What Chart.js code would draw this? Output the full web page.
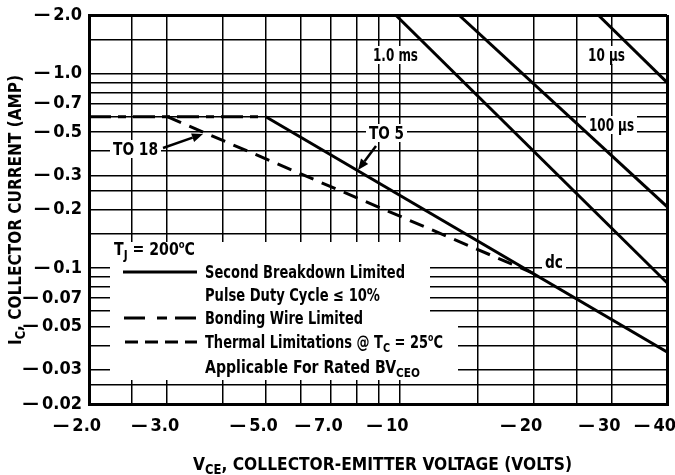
<!DOCTYPE html>
<html><head><meta charset="utf-8">
<script src="https://cdn.jsdelivr.net/npm/chart.js@4.4.0/dist/chart.umd.min.js"></script>
<style>html,body{margin:0;padding:0;background:#fff}#wrap{width:675px;height:475px}</style>
</head><body><div id="wrap"><canvas id="c" width="675" height="475"></canvas></div>
<script>
// ---- data ----
const xGridValues = [2, 2.5, 3, 4, 5, 6, 7, 8, 9, 10, 15, 20, 25, 30, 40];
const xLabeledValues = [2, 3, 5, 7, 10, 20, 30, 40];
const xTickLabels = ['2.0', '3.0', '5.0', '7.0', '10', '20', '30', '40'];
const yGridValues = [2, 1.5, 1, 0.9, 0.8, 0.7, 0.6, 0.5, 0.4, 0.3, 0.25, 0.2, 0.15, 0.1, 0.09, 0.08, 0.07, 0.06, 0.05, 0.04, 0.03, 0.025, 0.02];
const yLabeledValues = [2, 1, 0.7, 0.5, 0.3, 0.2, 0.1, 0.07, 0.05, 0.03, 0.02];
const yTickLabels = ['2.0', '1.0', '0.7', '0.5', '0.3', '0.2', '0.1', '0.07', '0.05', '0.03', '0.02'];

const dcVce = [5, 40];        const dcIc = [0.6, 0.037];
const bondVce = [2, 5];       const bondIc = [0.6, 0.6];
const thermVce = [3, 20];     const thermIc = [0.6, 0.094];
const p1msVce = [9.8, 40];    const p1msIc = [2.0, 0.084];
const p100usVce = [13.6, 40]; const p100usIc = [2.0, 0.207];
const p10usVce = [28, 40];    const p10usIc = [2.0, 0.9];

// ---- style ----
const FAM = '"Liberation Sans Narrow", "DejaVu Sans Condensed", "Arial Narrow", sans-serif';
const DASH = '\u2014\u2009';

function pts(xs, ys) { return xs.map((x, i) => ({ x: x, y: ys[i] })); }
function near(a, b) { return Math.abs(a - b) / b < 1e-6; }

function fontStr(size) { return 'bold ' + size + 'px ' + FAM; }
function segWidth(ctx, segs, size) {
  let w = 0;
  segs.forEach(s => {
    const sz = s.s === 'sub' ? size * 0.75 : (s.s === 'sup' ? size * 0.6 : size);
    ctx.font = fontStr(sz);
    w += ctx.measureText(s.t).width;
  });
  return w;
}
function drawRich(ctx, segs, x, base, size, targetW, align) {
  const W = segWidth(ctx, segs, size);
  const sx = targetW ? targetW / W : 1;
  const total = W * sx;
  let x0 = x;
  if (align === 'center') x0 = x - total / 2;
  ctx.save();
  ctx.translate(x0, base);
  ctx.scale(sx, 1);
  ctx.fillStyle = '#000';
  ctx.textBaseline = 'alphabetic';
  ctx.textAlign = 'left';
  let cx = 0;
  segs.forEach(s => {
    let sz = size, dy = 0;
    if (s.s === 'sub') { sz = size * 0.75; dy = size * 0.22; }
    if (s.s === 'sup') { sz = size * 0.6; dy = -size * 0.42; }
    ctx.font = fontStr(sz);
    ctx.fillText(s.t, cx, dy);
    cx += ctx.measureText(s.t).width;
  });
  ctx.restore();
}

// annotation labels (pixel placement)
const plotLabels = [
  { segs: [{ t: '1.0 ms' }], x: 373, base: 61, w: 45 },
  { segs: [{ t: '10 \u00b5s' }], x: 588, base: 61, w: 37 },
  { segs: [{ t: '100 \u00b5s' }], x: 589, base: 131, w: 45 },
  { segs: [{ t: 'TO 5' }], x: 369, base: 139, w: 35 },
  { segs: [{ t: 'TO 18' }], x: 113, base: 155, w: 45 },
  { segs: [{ t: 'dc' }], x: 545, base: 268, w: 18 }
];

const legendTexts = [
  { segs: [{ t: 'T' }, { t: 'J', s: 'sub' }, { t: ' = 200' }, { t: 'o', s: 'sup' }, { t: 'C' }], x: 114, base: 255, w: 81 },
  { segs: [{ t: 'Second Breakdown Limited' }], x: 205, base: 278, w: 200 },
  { segs: [{ t: 'Pulse Duty Cycle \u2264 10%' }], x: 205, base: 301, w: 175 },
  { segs: [{ t: 'Bonding Wire Limited' }], x: 205, base: 324, w: 158 },
  { segs: [{ t: 'Thermal Limitations @ T' }, { t: 'C', s: 'sub' }, { t: ' = 25' }, { t: 'o', s: 'sup' }, { t: 'C' }], x: 205, base: 348, w: 238 },
  { segs: [{ t: 'Applicable For Rated BV' }, { t: 'CEO', s: 'sub' }], x: 205, base: 373, w: 215 }
];

function arrow(ctx, x1, y1, x2, y2) {
  const ang = Math.atan2(y2 - y1, x2 - x1);
  const hl = 11, hw = 4.5;
  const bx = x2 - hl * Math.cos(ang), by = y2 - hl * Math.sin(ang);
  ctx.save();
  ctx.strokeStyle = '#000'; ctx.fillStyle = '#000';
  ctx.lineWidth = 2.5; ctx.setLineDash([]);
  ctx.beginPath(); ctx.moveTo(x1, y1); ctx.lineTo(bx, by); ctx.stroke();
  ctx.beginPath();
  ctx.moveTo(x2, y2);
  ctx.lineTo(bx + hw * Math.sin(ang), by - hw * Math.cos(ang));
  ctx.lineTo(bx - hw * Math.sin(ang), by + hw * Math.cos(ang));
  ctx.closePath(); ctx.fill();
  ctx.restore();
}

const decor = {
  id: 'decor',
  beforeDatasetsDraw(chart) {
    const ctx = chart.ctx;
    ctx.save();
    ctx.fillStyle = '#fff';
    // legend block mask
    ctx.beginPath();
    ctx.moveTo(110, 242); ctx.lineTo(430, 242); ctx.lineTo(430, 318);
    ctx.lineTo(458, 318); ctx.lineTo(458, 380); ctx.lineTo(110, 380);
    ctx.closePath(); ctx.fill();
    // label backgrounds
    plotLabels.forEach(l => {
      ctx.fillRect(l.x - 3, l.base - 15, l.w + 6, 18);
    });
    ctx.restore();
  },
  afterDatasetsDraw(chart) {
    const ctx = chart.ctx;
    plotLabels.forEach(l => drawRich(ctx, l.segs, l.x, l.base, 17, l.w, 'left'));
    legendTexts.forEach(l => drawRich(ctx, l.segs, l.x, l.base, 17, l.w, 'left'));
    // legend samples
    ctx.save();
    ctx.strokeStyle = '#000'; ctx.lineWidth = 3;
    ctx.setLineDash([]);
    ctx.beginPath(); ctx.moveTo(123, 272); ctx.lineTo(197, 272); ctx.stroke();
    ctx.setLineDash([21, 12, 10, 8]);
    ctx.beginPath(); ctx.moveTo(124, 318); ctx.lineTo(197, 318); ctx.stroke();
    ctx.setLineDash([13, 7]);
    ctx.beginPath(); ctx.moveTo(125, 342); ctx.lineTo(197, 342); ctx.stroke();
    ctx.restore();
    // arrows
    arrow(ctx, 163, 148, 203, 134);
    arrow(ctx, 376, 146, 358, 170);
  },
  afterDraw(chart) {
    const ctx = chart.ctx;
    drawRich(ctx, [{ t: 'V' }, { t: 'CE', s: 'sub' }, { t: ', COLLECTOR-EMITTER VOLTAGE (VOLTS)' }], 193, 470, 18, 379, 'left');
    ctx.save();
    ctx.translate(21, 210);
    ctx.rotate(-Math.PI / 2);
    drawRich(ctx, [{ t: 'I' }, { t: 'C', s: 'sub' }, { t: ', COLLECTOR CURRENT (AMP)' }], 0, 0, 18, 270, 'center');
    ctx.restore();
  }
};

function mk(data, dash) {
  return { data: data, borderColor: '#000', borderWidth: 3, borderDash: dash, pointRadius: 0, showLine: true, fill: false, tension: 0 };
}

new Chart(document.getElementById('c'), {
  type: 'scatter',
  data: {
    datasets: [
      Object.assign(mk(pts(dcVce, dcIc), []), { label: 'Second Breakdown Limited (dc)' }),
      Object.assign(mk(pts(bondVce, bondIc), [22, 7, 8, 7]), { label: 'Bonding Wire Limited' }),
      Object.assign(mk(pts(thermVce, thermIc), [15, 9]), { label: 'Thermal Limitations' }),
      Object.assign(mk(pts(p1msVce, p1msIc), []), { label: '1.0 ms' }),
      Object.assign(mk(pts(p100usVce, p100usIc), []), { label: '100 \u00b5s' }),
      Object.assign(mk(pts(p10usVce, p10usIc), []), { label: '10 \u00b5s' })
    ]
  },
  options: {
    responsive: false,
    animation: false,
    devicePixelRatio: 1,
    layout: { padding: { top: 15, right: 8, left: 0, bottom: 0 } },
    plugins: { legend: { display: false }, tooltip: { enabled: false } },
    scales: {
      x: {
        type: 'logarithmic', position: 'bottom', min: 2, max: 40,
        afterBuildTicks: s => { s.ticks = xGridValues.map(v => ({ value: v })); },
        afterFit: s => { s.height = 71; s.paddingLeft = 0; s.paddingRight = 0; },
        grid: {
          color: '#000', drawTicks: false,
          lineWidth: c => (c.tick && (near(c.tick.value, 2) || near(c.tick.value, 40))) ? 3 : 1.5
        },
        border: { display: true, color: '#000', width: 3 },
        ticks: {
          autoSkip: false, maxRotation: 0, minRotation: 0, padding: 12, labelOffset: -12,
          color: '#000', font: { family: FAM, size: 18, weight: 'bold' },
          callback: v => { const i = xLabeledValues.findIndex(u => near(v, u)); return i >= 0 ? DASH + xTickLabels[i] : ''; }
        }
      },
      y: {
        type: 'logarithmic', position: 'left', min: 0.02, max: 2,
        afterBuildTicks: s => { s.ticks = yGridValues.map(v => ({ value: v })); },
        afterFit: s => { s.width = 89; s.paddingTop = 0; s.paddingBottom = 0; },
        grid: {
          color: '#000', drawTicks: false,
          lineWidth: c => (c.tick && (near(c.tick.value, 2) || near(c.tick.value, 0.02))) ? 3 : 1.5
        },
        border: { display: true, color: '#000', width: 3 },
        ticks: {
          autoSkip: false, padding: 7,
          color: '#000', font: { family: FAM, size: 18, weight: 'bold' },
          callback: v => { const i = yLabeledValues.findIndex(u => near(v, u)); return i >= 0 ? DASH + yTickLabels[i] : ''; }
        }
      }
    }
  },
  plugins: [decor]
});
</script>
</body></html>
